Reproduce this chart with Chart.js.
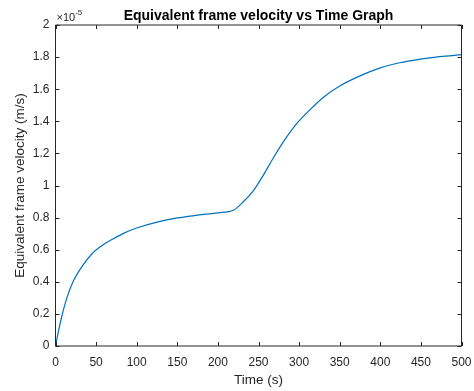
<!DOCTYPE html>
<html>
<head>
<meta charset="utf-8">
<script src="https://cdn.jsdelivr.net/npm/chart.js@4/dist/chart.umd.min.js"></script>
<style>
  body { margin: 0; background: #fff; }
  canvas { display: block; }
</style>
</head>
<body>
<canvas id="velocity-chart" width="474" height="391"></canvas>
<script>

// data ===============================================================

const timeSec = [0, 4, 8, 14, 22, 33, 45, 57, 70, 85, 100, 125, 150, 175, 200, 219, 231, 244, 256, 268, 281, 297, 313, 330, 350, 375, 400, 424, 449, 473, 500];
// velocity in units of 1e-5 m/s
const velocityE5 = [0, 0.10, 0.19, 0.30, 0.405, 0.498, 0.575, 0.625, 0.665, 0.705, 0.735, 0.772, 0.798, 0.815, 0.83, 0.846, 0.897, 0.97, 1.065, 1.17, 1.275, 1.385, 1.47, 1.55, 1.62, 1.683, 1.733, 1.765, 1.787, 1.803, 1.815];

const xTicks = [0, 50, 100, 150, 200, 250, 300, 350, 400, 450, 500];
const yTicks = [0, 0.2, 0.4, 0.6, 0.8, 1, 1.2, 1.4, 1.6, 1.8, 2];

const axisColor = '#262626';
const fontFamily = '"Liberation Sans", Arial, Helvetica, sans-serif';

// inward ticks, full box, title and exponent label (MATLAB look)
const matlabBox = {
  id: 'matlabBox',
  afterDraw(chart) {
    const ctx = chart.ctx;
    const area = chart.chartArea;
    const xs = chart.scales.x;
    const ys = chart.scales.y;
    const len = 4;

    ctx.save();
    ctx.strokeStyle = axisColor;
    ctx.lineWidth = 1;
    ctx.beginPath();
    ctx.rect(area.left, area.top, area.right - area.left, area.bottom - area.top);
    xTicks.forEach(v => {
      const px = Math.round(xs.getPixelForValue(v)) + 0.5;
      ctx.moveTo(px, area.bottom); ctx.lineTo(px, area.bottom - len);
      ctx.moveTo(px, area.top); ctx.lineTo(px, area.top + len);
    });
    yTicks.forEach(v => {
      const py = Math.round(ys.getPixelForValue(v)) + 0.5;
      ctx.moveTo(area.left, py); ctx.lineTo(area.left + len, py);
      ctx.moveTo(area.right, py); ctx.lineTo(area.right - len, py);
    });
    ctx.stroke();

    // title
    ctx.fillStyle = '#000';
    ctx.font = 'bold 14px ' + fontFamily;
    ctx.textAlign = 'center';
    ctx.textBaseline = 'alphabetic';
    ctx.fillText('Equivalent frame velocity vs Time Graph', (area.left + area.right) / 2, 20);

    // x10^-5 exponent
    ctx.fillStyle = axisColor;
    ctx.textAlign = 'left';
    ctx.font = '11px ' + fontFamily;
    ctx.fillText('\u00d710', area.left + 1, area.top - 4);
    const w = ctx.measureText('\u00d710').width;
    ctx.font = '8px ' + fontFamily;
    ctx.fillText('-5', area.left + 1 + w, area.top - 10);
    ctx.restore();
  }
};

const velocityChart = new Chart(document.getElementById('velocity-chart'), {
  type: 'line',
  data: {
    datasets: [{
      data: timeSec.map((t, i) => ({ x: t, y: velocityE5[i] })),
      borderColor: '#0072BD',
      borderWidth: 1.2,
      pointRadius: 0,
      fill: false,
      cubicInterpolationMode: 'monotone'
    }]
  },
  options: {
    responsive: false,
    animation: false,
    layout: {
      autoPadding: false,
      padding: { left: 0, top: 25, right: 12.5, bottom: 0 }
    },
    plugins: {
      legend: { display: false },
      tooltip: { enabled: false }
    },
    scales: {
      x: {
        type: 'linear',
        min: 0,
        max: 500,
        afterBuildTicks: scale => { scale.ticks = xTicks.map(v => ({ value: v })); },
        afterFit: scale => {
          scale.height = 45;
          scale.paddingLeft = 0;
          scale.paddingRight = 0;
        },
        grid: { display: false, drawTicks: false },
        border: { display: false },
        ticks: {
          color: axisColor,
          padding: 9,
          maxRotation: 0,
          font: { family: fontFamily, size: 12 }
        },
        title: {
          display: true,
          text: 'Time (s)',
          color: axisColor,
          padding: { top: 0, bottom: 3 },
          font: { family: fontFamily, size: 13.5 }
        }
      },
      y: {
        type: 'linear',
        min: 0,
        max: 2,
        afterBuildTicks: scale => { scale.ticks = yTicks.map(v => ({ value: v })); },
        afterFit: scale => {
          scale.width = 55.5;
          scale.paddingTop = 0;
          scale.paddingBottom = 0;
        },
        grid: { display: false, drawTicks: false },
        border: { display: false },
        ticks: {
          color: axisColor,
          padding: 6,
          font: { family: fontFamily, size: 12 },
          callback: v => String(+v.toFixed(1))
        },
        title: {
          display: true,
          text: 'Equivalent frame velocity (m/s)',
          color: axisColor,
          padding: { top: 12, bottom: 0 },
          font: { family: fontFamily, size: 13.5 }
        }
      }
    }
  },
  plugins: [matlabBox]
});

</script>
</body>
</html>
